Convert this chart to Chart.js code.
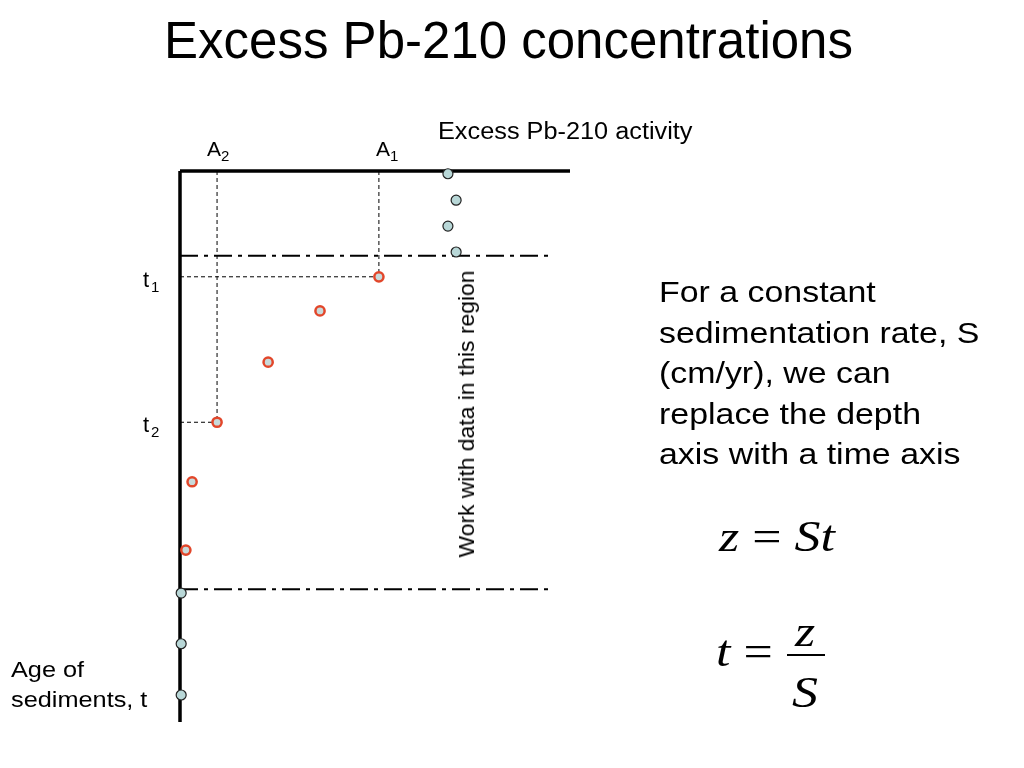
<!DOCTYPE html>
<html>
<head>
<meta charset="utf-8">
<script src="https://cdn.jsdelivr.net/npm/chart.js@4.4.1/dist/chart.umd.min.js"></script>
<style>
  body { margin: 0; background: #fff; }
  #wrap { position: relative; width: 1024px; height: 768px; overflow: hidden;
          font-family: "Liberation Sans", Arial, sans-serif; color: #000; }
  #pbChart { position: absolute; left: 0; top: 0; }
  .txt { position: absolute; white-space: nowrap; transform-origin: 0 0; }
  .eq { position: absolute; font-family: "Liberation Serif", "Times New Roman", serif; font-size: 44px;
        line-height: 44px; white-space: nowrap; transform: scaleX(1.18); transform-origin: 0 0; }
  .eq i { font-style: italic; }
</style>
</head>
<body>
<div id="wrap">
  <canvas id="pbChart" width="1024" height="768"></canvas>

  <div class="txt" style="left:0;width:1017px;top:15px;text-align:center;font-size:51px;line-height:51px;">Excess Pb-210 concentrations</div>
  <div class="txt" style="left:438px;top:120px;font-size:23px;line-height:23px;transform:scaleX(1.1);">Excess Pb-210 activity</div>
  <div class="txt" style="left:467px;top:414px;font-size:22px;transform-origin:50% 50%;transform:translate(-50%,-50%) rotate(-90deg) scaleX(1.04);">Work with data in this region</div>

  <div class="txt" style="left:659px;top:272px;font-size:30px;line-height:40.5px;transform:scaleX(1.13);">For a constant<br>sedimentation rate, S<br>(cm/yr), we can<br>replace the depth<br>axis with a time axis</div>

  <div class="txt" style="left:11px;top:655px;font-size:22px;line-height:30px;transform:scaleX(1.15);">Age of<br>sediments, t</div>

  <div class="eq" style="left:719px;top:515px;"><i>z</i> = <i>St</i></div>
  <div class="eq" style="left:716px;top:630px;"><i>t</i> =</div>
  <div class="eq" style="left:795px;top:610px;"><i>z</i></div>
  <div style="position:absolute;left:787px;top:654px;width:38px;height:2px;background:#000;"></div>
  <div class="eq" style="left:792px;top:671px;"><i>S</i></div>
</div>

<script>
// activity (x) and age (y) in arbitrary units, 0-100 across the plot frame
const topBlueX = [68.7, 70.8, 68.7, 70.8];
const topBlueY = [0.5, 5.3, 10.0, 14.7];

const regionX = [51.0, 35.9, 22.6, 9.5, 3.1, 1.5];
const regionY = [19.2, 25.4, 34.7, 45.6, 56.4, 68.8];

const deepBlueX = [0.3, 0.3, 0.3];
const deepBlueY = [76.6, 85.8, 95.1];

const regionBounds = [15.4, 75.9];   // dash-dot lines (age)
const boundEnd = 95.6;               // where the dash-dot lines stop

// guide points A1/A2 (activity) at t1/t2 (age)
const guideA = [51.0, 9.5];
const guideT = [19.2, 45.6];
const guideNames = ["1", "2"];

function pts(xs, ys) {
  return xs.map((x, i) => ({ x: x, y: ys[i] }));
}

function lineSet(data, opts) {
  return Object.assign({
    data: data,
    showLine: true,
    borderColor: "#000",
    borderWidth: 1,
    pointRadius: 0,
    pointHoverRadius: 0,
    fill: false,
    clip: false,
    order: 5
  }, opts);
}

const datasets = [];

// frame
datasets.push(lineSet(pts([0, 100], [0, 0]), { borderWidth: 3.5 }));
datasets.push(lineSet(pts([0, 0], [0, 100]), { borderWidth: 3.5 }));

// region boundaries
regionBounds.forEach(b => {
  datasets.push(lineSet(pts([0, boundEnd], [b, b]), { borderWidth: 2, borderDash: [18, 6, 4, 6] }));
});

// guide lines from the axes to the A1/A2 points
guideA.forEach((a, i) => {
  datasets.push(lineSet(pts([a, a], [0, guideT[i]]), { borderWidth: 1, borderDash: [4, 3] }));
  datasets.push(lineSet(pts([0, a], [guideT[i], guideT[i]]), { borderWidth: 1, borderDash: [4, 3] }));
});

// data points
datasets.push({
  data: pts(topBlueX, topBlueY).concat(pts(deepBlueX, deepBlueY)),
  pointRadius: 5,
  pointBackgroundColor: "#b8d7d7",
  pointBorderColor: "#222",
  pointBorderWidth: 1.2,
  clip: false,
  order: 1
});
datasets.push({
  data: pts(regionX, regionY),
  pointRadius: 4.6,
  pointBackgroundColor: "#c8dada",
  pointBorderColor: "#e2462a",
  pointBorderWidth: 2.5,
  clip: false,
  order: 1
});

// A1/A2 above the frame, t1/t2 left of the axis, with subscripts
const labelShift = [-3, -10];
const guideLabels = {
  id: "guideLabels",
  afterDraw(chart) {
    const ctx = chart.ctx;
    const xs = chart.scales.x, ys = chart.scales.y;
    ctx.save();
    ctx.fillStyle = "#000";
    ctx.textBaseline = "alphabetic";
    guideA.forEach((a, i) => {
      const px = xs.getPixelForValue(a);
      ctx.font = "21px 'Liberation Sans', Arial, sans-serif";
      const w = ctx.measureText("A").width;
      const left = px + labelShift[i];
      ctx.fillText("A", left, 156);
      ctx.font = "15px 'Liberation Sans', Arial, sans-serif";
      ctx.fillText(guideNames[i], left + w, 161);

      const py = ys.getPixelForValue(guideT[i]);
      ctx.font = "22px 'Liberation Sans', Arial, sans-serif";
      ctx.fillText("t", 143, py + 10);
      ctx.font = "15px 'Liberation Sans', Arial, sans-serif";
      ctx.fillText(guideNames[i], 151, py + 15);
    });
    ctx.restore();
  }
};

new Chart(document.getElementById("pbChart"), {
  type: "scatter",
  data: { datasets: datasets },
  options: {
    responsive: false,
    animation: false,
    events: [],
    layout: { padding: { left: 180, top: 171, right: 454, bottom: 46 } },
    scales: {
      x: { type: "linear", min: 0, max: 100, display: false },
      y: { type: "linear", min: 0, max: 100, reverse: true, display: false }
    },
    plugins: {
      legend: { display: false },
      tooltip: { enabled: false }
    }
  },
  plugins: [guideLabels]
});
</script>
</body>
</html>
